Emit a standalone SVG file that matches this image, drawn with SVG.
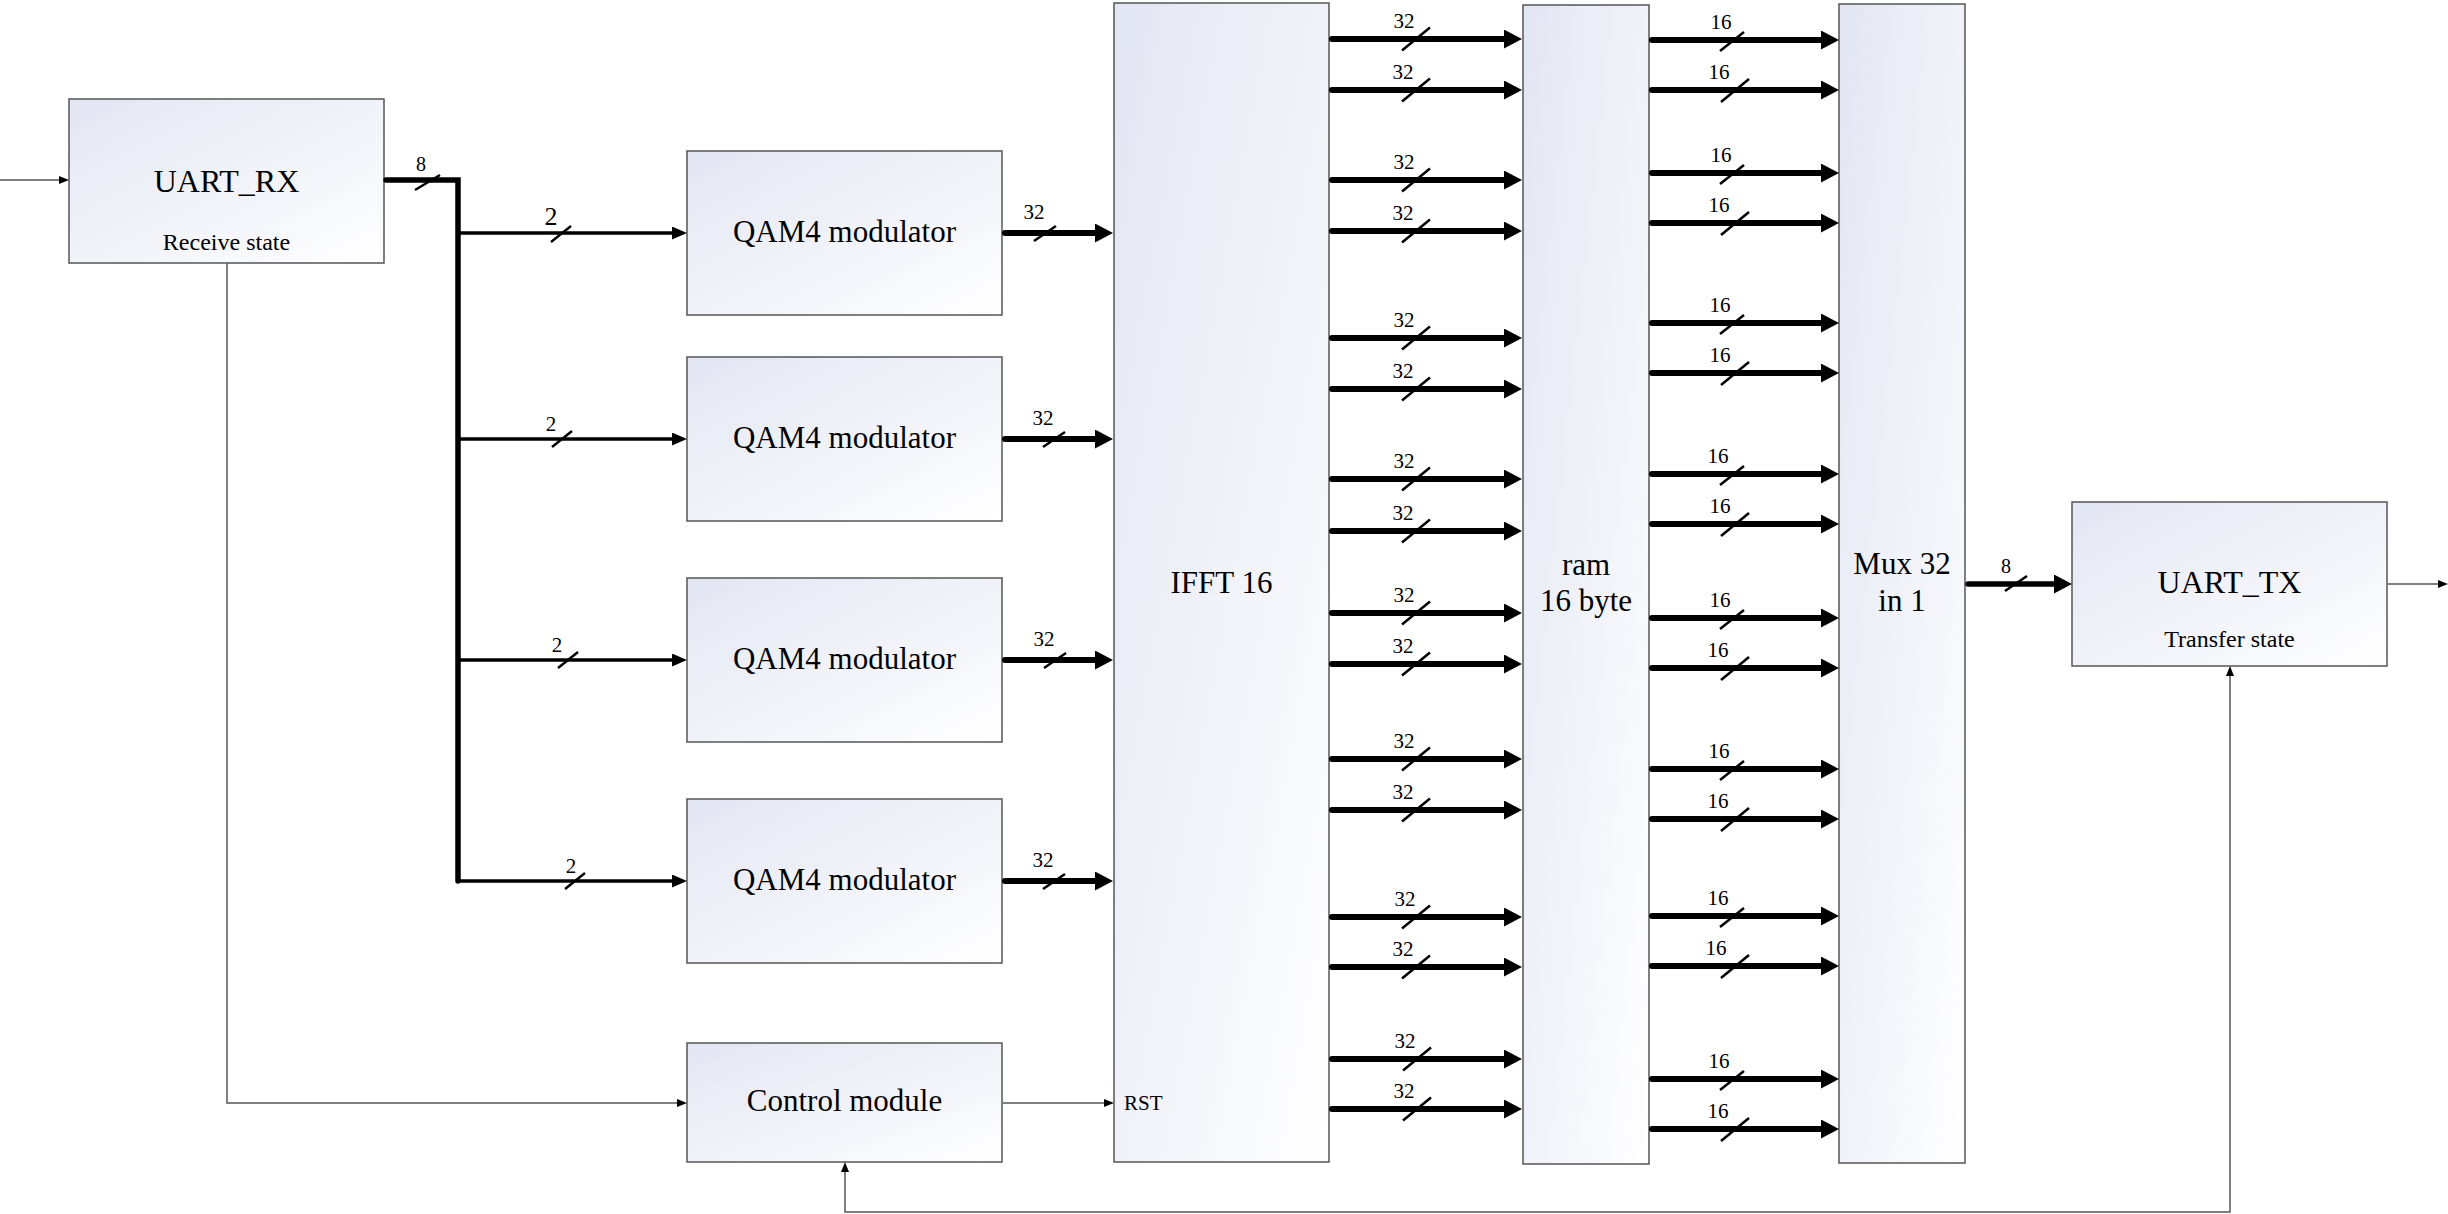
<svg xmlns="http://www.w3.org/2000/svg" width="2448" height="1214" viewBox="0 0 2448 1214">
<defs>
<linearGradient id="fill" x1="0" y1="0" x2="1" y2="1">
<stop offset="0" stop-color="#e3e6f3"/>
<stop offset="1" stop-color="#ffffff"/>
</linearGradient>
<marker id="ah" markerUnits="userSpaceOnUse" markerWidth="18" markerHeight="19" refX="6" refY="9.5" orient="auto"><path d="M0,0 L18,9.5 L0,19 z" fill="#000"/></marker>
<marker id="am" markerUnits="userSpaceOnUse" markerWidth="15" markerHeight="13" refX="5" refY="6.5" orient="auto"><path d="M0,0 L15,6.5 L0,13 z" fill="#000"/></marker>
<marker id="at" markerUnits="userSpaceOnUse" markerWidth="10" markerHeight="8" refX="4" refY="4" orient="auto-start-reverse"><path d="M0,0 L10,4 L0,8 z" fill="#000"/></marker>
</defs>
<style>
.box{fill:url(#fill);stroke:#555;stroke-width:1.5}
.t{font-family:"Liberation Serif","Times New Roman",serif;fill:#000;text-anchor:middle}
.big{font-size:31px}
.uart{font-size:32px}
.sub{font-size:24px}
.lbl{font-size:21px}
.thick{stroke:#000;stroke-width:6;stroke-linecap:round;fill:none;marker-end:url(#ah)}
.med{stroke:#000;stroke-width:3.5;fill:none;marker-end:url(#am)}
.bus{stroke:#000;stroke-width:5.5;stroke-linecap:round;stroke-linejoin:miter;fill:none}
.thin{stroke:#555;stroke-width:1.5;fill:none;marker-end:url(#at)}
.sl{stroke:#000;stroke-width:2.5}
</style>
<rect width="2448" height="1214" fill="#fff"/>

<g id="uart_rx">
<rect class="box" x="69" y="99" width="315" height="164"/>
<text class="t uart" x="226.5" y="192">UART_RX</text>
<text class="t sub" x="226.5" y="250">Receive state</text>
</g>
<g id="qam1">
<rect class="box" x="687" y="151" width="315" height="164"/>
<text class="t big" x="844.5" y="242">QAM4 modulator</text>
</g>
<g id="qam2">
<rect class="box" x="687" y="357" width="315" height="164"/>
<text class="t big" x="844.5" y="448">QAM4 modulator</text>
</g>
<g id="qam3">
<rect class="box" x="687" y="578" width="315" height="164"/>
<text class="t big" x="844.5" y="669">QAM4 modulator</text>
</g>
<g id="qam4">
<rect class="box" x="687" y="799" width="315" height="164"/>
<text class="t big" x="844.5" y="890">QAM4 modulator</text>
</g>
<g id="control">
<rect class="box" x="687" y="1043" width="315" height="119"/>
<text class="t big" x="844.5" y="1111">Control module</text>
</g>
<g id="ifft">
<rect class="box" x="1114" y="3" width="215" height="1159"/>
<text class="t big" x="1221.5" y="593">IFFT 16</text>
<text class="t lbl" x="1124" y="1110" style="text-anchor:start">RST</text>
</g>
<g id="ram">
<rect class="box" x="1523" y="5" width="126" height="1159"/>
<text class="t big" x="1586" y="575">ram</text>
<text class="t big" x="1586" y="611">16 byte</text>
</g>
<g id="mux">
<rect class="box" x="1839" y="4" width="126" height="1159"/>
<text class="t big" x="1902" y="574">Mux 32</text>
<text class="t big" x="1902" y="611">in 1</text>
</g>
<g id="uart_tx">
<rect class="box" x="2072" y="502" width="315" height="164"/>
<text class="t uart" x="2229.5" y="593">UART_TX</text>
<text class="t sub" x="2229.5" y="647">Transfer state</text>
</g>

<g id="connectors">
<!-- thin control connectors -->
<path class="thin" d="M0,180 H63"/>
<path class="thin" d="M227,263 V1103 H681"/>
<path class="thin" d="M1003,1103 H1108"/>
<path class="thin" d="M2388,584 H2442"/>
<path class="thin" d="M845,1168 V1212 H2230 V672" style="marker-start:url(#at)"/>

<!-- UART_RX bus -->
<path class="bus" d="M386,180 H458 V881"/>
<text class="t lbl" x="421" y="171" style="font-size:20px">8</text>
<line class="sl" x1="415" y1="190" x2="440" y2="175"/>

<!-- branches to QAM -->
<line class="med" x1="458" y1="233" x2="677" y2="233"/>
<line class="med" x1="458" y1="439" x2="677" y2="439"/>
<line class="med" x1="458" y1="660" x2="677" y2="660"/>
<line class="med" x1="458" y1="881" x2="677" y2="881"/>
<text class="t" x="551" y="225" style="font-size:26px">2</text>
<text class="t lbl" x="551" y="431">2</text>
<text class="t lbl" x="557" y="652">2</text>
<text class="t lbl" x="571" y="873">2</text>
<line class="sl" x1="551" y1="242" x2="571" y2="226"/>
<line class="sl" x1="552" y1="447" x2="572" y2="431"/>
<line class="sl" x1="558" y1="668" x2="578" y2="652"/>
<line class="sl" x1="565" y1="889" x2="585" y2="873"/>

<!-- QAM to IFFT -->
<line class="thick" x1="1005" y1="233" x2="1101" y2="233"/>
<line class="thick" x1="1005" y1="439" x2="1101" y2="439"/>
<line class="thick" x1="1005" y1="660" x2="1101" y2="660"/>
<line class="thick" x1="1005" y1="881" x2="1101" y2="881"/>
<text class="t lbl" x="1034" y="219">32</text>
<text class="t lbl" x="1043" y="425">32</text>
<text class="t lbl" x="1044" y="646">32</text>
<text class="t lbl" x="1043" y="867">32</text>
<line class="sl" x1="1034" y1="241" x2="1056" y2="226"/>
<line class="sl" x1="1043" y1="447" x2="1065" y2="432"/>
<line class="sl" x1="1044" y1="668" x2="1066" y2="653"/>
<line class="sl" x1="1043" y1="889" x2="1065" y2="874"/>

<!-- IFFT to RAM -->
<g id="ifft-ram">
<line class="thick" x1="1332" y1="39" x2="1510" y2="39"/><text class="t lbl" x="1404" y="28">32</text><line class="sl" x1="1402" y1="50.5" x2="1430" y2="27.5"/>
<line class="thick" x1="1332" y1="90" x2="1510" y2="90"/><text class="t lbl" x="1403" y="79">32</text><line class="sl" x1="1402" y1="101.5" x2="1430" y2="78.5"/>
<line class="thick" x1="1332" y1="180" x2="1510" y2="180"/><text class="t lbl" x="1404" y="169">32</text><line class="sl" x1="1402" y1="191.5" x2="1430" y2="168.5"/>
<line class="thick" x1="1332" y1="231" x2="1510" y2="231"/><text class="t lbl" x="1403" y="220">32</text><line class="sl" x1="1402" y1="242.5" x2="1430" y2="219.5"/>
<line class="thick" x1="1332" y1="338" x2="1510" y2="338"/><text class="t lbl" x="1404" y="327">32</text><line class="sl" x1="1402" y1="349.5" x2="1430" y2="326.5"/>
<line class="thick" x1="1332" y1="389" x2="1510" y2="389"/><text class="t lbl" x="1403" y="378">32</text><line class="sl" x1="1402" y1="400.5" x2="1430" y2="377.5"/>
<line class="thick" x1="1332" y1="479" x2="1510" y2="479"/><text class="t lbl" x="1404" y="468">32</text><line class="sl" x1="1402" y1="490.5" x2="1430" y2="467.5"/>
<line class="thick" x1="1332" y1="531" x2="1510" y2="531"/><text class="t lbl" x="1403" y="520">32</text><line class="sl" x1="1402" y1="542.5" x2="1430" y2="519.5"/>
<line class="thick" x1="1332" y1="613" x2="1510" y2="613"/><text class="t lbl" x="1404" y="602">32</text><line class="sl" x1="1402" y1="624.5" x2="1430" y2="601.5"/>
<line class="thick" x1="1332" y1="664" x2="1510" y2="664"/><text class="t lbl" x="1403" y="653">32</text><line class="sl" x1="1402" y1="675.5" x2="1430" y2="652.5"/>
<line class="thick" x1="1332" y1="759" x2="1510" y2="759"/><text class="t lbl" x="1404" y="748">32</text><line class="sl" x1="1402" y1="770.5" x2="1430" y2="747.5"/>
<line class="thick" x1="1332" y1="810" x2="1510" y2="810"/><text class="t lbl" x="1403" y="799">32</text><line class="sl" x1="1402" y1="821.5" x2="1430" y2="798.5"/>
<line class="thick" x1="1332" y1="917" x2="1510" y2="917"/><text class="t lbl" x="1405" y="906">32</text><line class="sl" x1="1402" y1="928.5" x2="1430" y2="905.5"/>
<line class="thick" x1="1332" y1="967" x2="1510" y2="967"/><text class="t lbl" x="1403" y="956">32</text><line class="sl" x1="1402" y1="978.5" x2="1430" y2="955.5"/>
<line class="thick" x1="1332" y1="1059" x2="1510" y2="1059"/><text class="t lbl" x="1405" y="1048">32</text><line class="sl" x1="1403" y1="1070.5" x2="1431" y2="1047.5"/>
<line class="thick" x1="1332" y1="1109" x2="1510" y2="1109"/><text class="t lbl" x="1404" y="1098">32</text><line class="sl" x1="1403" y1="1120.5" x2="1431" y2="1097.5"/>
</g>

<!-- RAM to MUX -->
<g id="ram-mux">
<line class="thick" x1="1652" y1="40" x2="1827" y2="40"/><text class="t lbl" x="1721" y="29">16</text><line class="sl" x1="1720" y1="51" x2="1744" y2="32"/>
<line class="thick" x1="1652" y1="90" x2="1827" y2="90"/><text class="t lbl" x="1719" y="79">16</text><line class="sl" x1="1721" y1="102" x2="1749" y2="79"/>
<line class="thick" x1="1652" y1="173" x2="1827" y2="173"/><text class="t lbl" x="1721" y="162">16</text><line class="sl" x1="1720" y1="184" x2="1744" y2="165"/>
<line class="thick" x1="1652" y1="223" x2="1827" y2="223"/><text class="t lbl" x="1719" y="212">16</text><line class="sl" x1="1721" y1="235" x2="1749" y2="212"/>
<line class="thick" x1="1652" y1="323" x2="1827" y2="323"/><text class="t lbl" x="1720" y="312">16</text><line class="sl" x1="1720" y1="334" x2="1744" y2="315"/>
<line class="thick" x1="1652" y1="373" x2="1827" y2="373"/><text class="t lbl" x="1720" y="362">16</text><line class="sl" x1="1721" y1="385" x2="1749" y2="362"/>
<line class="thick" x1="1652" y1="474" x2="1827" y2="474"/><text class="t lbl" x="1718" y="463">16</text><line class="sl" x1="1720" y1="485" x2="1744" y2="466"/>
<line class="thick" x1="1652" y1="524" x2="1827" y2="524"/><text class="t lbl" x="1720" y="513">16</text><line class="sl" x1="1721" y1="536" x2="1749" y2="513"/>
<line class="thick" x1="1652" y1="618" x2="1827" y2="618"/><text class="t lbl" x="1720" y="607">16</text><line class="sl" x1="1720" y1="629" x2="1744" y2="610"/>
<line class="thick" x1="1652" y1="668" x2="1827" y2="668"/><text class="t lbl" x="1718" y="657">16</text><line class="sl" x1="1721" y1="680" x2="1749" y2="657"/>
<line class="thick" x1="1652" y1="769" x2="1827" y2="769"/><text class="t lbl" x="1719" y="758">16</text><line class="sl" x1="1720" y1="780" x2="1744" y2="761"/>
<line class="thick" x1="1652" y1="819" x2="1827" y2="819"/><text class="t lbl" x="1718" y="808">16</text><line class="sl" x1="1721" y1="831" x2="1749" y2="808"/>
<line class="thick" x1="1652" y1="916" x2="1827" y2="916"/><text class="t lbl" x="1718" y="905">16</text><line class="sl" x1="1720" y1="927" x2="1744" y2="908"/>
<line class="thick" x1="1652" y1="966" x2="1827" y2="966"/><text class="t lbl" x="1716" y="955">16</text><line class="sl" x1="1721" y1="978" x2="1749" y2="955"/>
<line class="thick" x1="1652" y1="1079" x2="1827" y2="1079"/><text class="t lbl" x="1719" y="1068">16</text><line class="sl" x1="1720" y1="1090" x2="1744" y2="1071"/>
<line class="thick" x1="1652" y1="1129" x2="1827" y2="1129"/><text class="t lbl" x="1718" y="1118">16</text><line class="sl" x1="1721" y1="1141" x2="1749" y2="1118"/>
</g>

<!-- MUX to UART_TX -->
<line class="thick" x1="1968" y1="584" x2="2060" y2="584" style="stroke-width:5.5"/>
<text class="t lbl" x="2006" y="573" style="font-size:20px">8</text>
<line class="sl" x1="2005" y1="591" x2="2027" y2="576"/>
</g>
</svg>
